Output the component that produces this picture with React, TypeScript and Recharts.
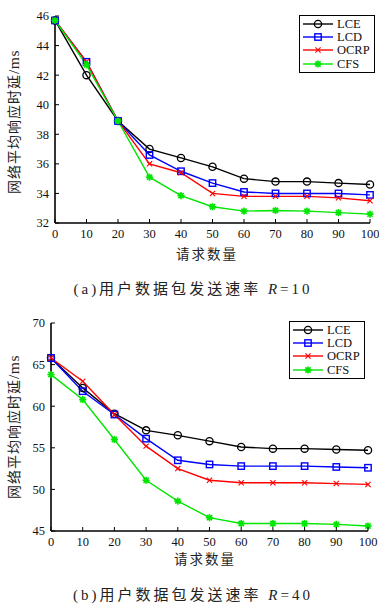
import { Legend, Line, LineChart, XAxis, YAxis } from "recharts";

// request counts on the x axis
const requestCounts = [0, 10, 20, 30, 40, 50, 60, 70, 80, 90, 100];

// (a) R = 10
const lceA = [45.7, 42.0, 38.9, 37.0, 36.4, 35.8, 35.0, 34.8, 34.8, 34.7, 34.6];
const lcdA = [45.7, 42.9, 38.9, 36.6, 35.5, 34.7, 34.1, 34.0, 34.0, 34.0, 33.9];
const ocrpA = [45.7, 42.9, 38.9, 36.0, 35.4, 34.0, 33.8, 33.8, 33.8, 33.7, 33.5];
const cfsA = [45.7, 42.7, 38.9, 35.1, 33.85, 33.1, 32.8, 32.85, 32.8, 32.7, 32.6];
const yTicksA = [32, 34, 36, 38, 40, 42, 44, 46];

// (b) R = 40
const lceB = [65.8, 62.2, 59.1, 57.1, 56.5, 55.8, 55.1, 54.9, 54.9, 54.8, 54.7];
const lcdB = [65.8, 61.8, 59.0, 56.1, 53.5, 53.0, 52.8, 52.8, 52.8, 52.7, 52.6];
const ocrpB = [65.8, 63.0, 59.0, 55.2, 52.5, 51.1, 50.8, 50.8, 50.8, 50.7, 50.6];
const cfsB = [63.8, 60.8, 56.0, 51.1, 48.6, 46.6, 45.9, 45.9, 45.9, 45.8, 45.6];
const yTicksB = [45, 50, 55, 60, 65, 70];

const SERIF = '"Liberation Serif", "DejaVu Serif", serif';
const CJK = '"Liberation Serif", "Noto Sans CJK SC", serif';

type Marker = "circle" | "square" | "cross" | "star";

const SERIES: { key: string; name: string; color: string; marker: Marker }[] = [
  { key: "lce", name: "LCE", color: "#000000", marker: "circle" },
  { key: "lcd", name: "LCD", color: "#0000ff", marker: "square" },
  { key: "ocrp", name: "OCRP", color: "#ff0000", marker: "cross" },
  { key: "cfs", name: "CFS", color: "#00e600", marker: "star" },
];

function drawMarker(kind: Marker, cx: number, cy: number, color: string, key?: string | number) {
  if (kind === "circle") {
    return <circle key={key} cx={cx} cy={cy} r={3.6} fill="none" stroke={color} strokeWidth={1.3} />;
  }
  if (kind === "square") {
    return <rect key={key} x={cx - 3.2} y={cy - 3.2} width={6.4} height={6.4} fill="none" stroke={color} strokeWidth={1.4} />;
  }
  if (kind === "cross") {
    return (
      <g key={key} stroke={color} strokeWidth={1.1}>
        <line x1={cx - 2.6} y1={cy - 2.6} x2={cx + 2.6} y2={cy + 2.6} />
        <line x1={cx - 2.6} y1={cy + 2.6} x2={cx + 2.6} y2={cy - 2.6} />
      </g>
    );
  }
  return (
    <g key={key} stroke={color} strokeWidth={1.6}>
      <circle cx={cx} cy={cy} r={2.4} fill={color} stroke="none" />
      <line x1={cx - 3.6} y1={cy} x2={cx + 3.6} y2={cy} />
      <line x1={cx} y1={cy - 3.6} x2={cx} y2={cy + 3.6} />
      <line x1={cx - 2.6} y1={cy - 2.6} x2={cx + 2.6} y2={cy + 2.6} />
      <line x1={cx - 2.6} y1={cy + 2.6} x2={cx + 2.6} y2={cy - 2.6} />
    </g>
  );
}

function YTick(props: any) {
  const { x, y, payload } = props;
  const ax = x + 6;
  return (
    <g>
      <line x1={ax} y1={y} x2={ax + 4} y2={y} stroke="#000" strokeWidth={1} />
      <text x={x} y={y} dy="0.35em" textAnchor="end" fontFamily={SERIF} fontSize={12.5} fill="#111">
        {payload.value}
      </text>
    </g>
  );
}

function XTick(props: any) {
  const { x, y, payload } = props;
  const ay = y - 6;
  return (
    <g>
      <line x1={x} y1={ay} x2={x} y2={ay - 4} stroke="#000" strokeWidth={1} />
      <text x={x} y={y} dy="0.71em" textAnchor="middle" fontFamily={SERIF} fontSize={12.5} fill="#111">
        {payload.value}
      </text>
    </g>
  );
}

function LegendBox() {
  return (
    <div
      style={{
        border: "1.5px solid #000",
        background: "#fff",
        padding: "1px 0 1px 3px",
        boxSizing: "border-box",
        width: "100%",
      }}
    >
      {SERIES.map((s) => (
        <div key={s.key} style={{ display: "flex", alignItems: "center", height: 13.4 }}>
          <svg width={30} height={10} style={{ display: "block" }}>
            <line x1={0} y1={5} x2={30} y2={5} stroke={s.color} strokeWidth={1.4} />
            {drawMarker(s.marker, 15, 5, s.color)}
          </svg>
          <span style={{ marginLeft: 4, fontFamily: SERIF, fontSize: 12.5, lineHeight: "12px", color: "#111" }}>
            {s.name}
          </span>
        </div>
      ))}
    </div>
  );
}

function buildRows(lce: number[], lcd: number[], ocrp: number[], cfs: number[]) {
  return requestCounts.map((n, i) => ({ n, lce: lce[i], lcd: lcd[i], ocrp: ocrp[i], cfs: cfs[i] }));
}

function Panel({
  rows,
  yDomain,
  yTicks,
  height,
  margin,
  yWidth,
  xHeight,
  legendPos,
}: {
  rows: any[];
  yDomain: [number, number];
  yTicks: number[];
  height: number;
  margin: { top: number; right: number; bottom: number; left: number };
  yWidth: number;
  xHeight: number;
  legendPos: { left: number; top: number; width: number };
}) {
  return (
    <LineChart width={379} height={height} data={rows} margin={margin}>
      <XAxis
        dataKey="n"
        type="number"
        domain={[0, 100]}
        ticks={requestCounts}
        height={xHeight}
        tickSize={0}
        tickMargin={6}
        tickLine={false}
        axisLine={{ stroke: "#000", strokeWidth: 1.6 }}
        tick={<XTick />}
        interval={0}
      />
      <YAxis
        type="number"
        domain={yDomain}
        ticks={yTicks}
        width={yWidth}
        tickSize={0}
        tickMargin={6}
        tickLine={false}
        axisLine={{ stroke: "#000", strokeWidth: 1.6 }}
        tick={<YTick />}
        interval={0}
      />
      <Legend
        layout="horizontal"
        align="center"
        verticalAlign="middle"
        content={() => <LegendBox />}
        wrapperStyle={{ left: legendPos.left, top: legendPos.top, width: legendPos.width }}
      />
      {SERIES.map((s) => (
        <Line
          key={s.key}
          dataKey={s.key}
          name={s.name}
          stroke={s.color}
          strokeWidth={1.4}
          isAnimationActive={false}
          dot={(p: any) => drawMarker(s.marker, p.cx, p.cy, s.color, `${s.key}-${p.index}`)}
          activeDot={false}
        />
      ))}
    </LineChart>
  );
}

const textBase: React.CSSProperties = {
  position: "absolute",
  whiteSpace: "nowrap",
  fontFamily: CJK,
  color: "#222",
};

function YTitle({ top }: { top: number }) {
  return (
    <div
      style={{
        ...textBase,
        left: 13,
        top,
        fontSize: 14,
        letterSpacing: 1,
        transform: "translate(-50%, -50%) rotate(-90deg)",
      }}
    >
      网络平均响应时延<span style={{ fontSize: 15.5, letterSpacing: 0.5 }}>/ms</span>
    </div>
  );
}

export default function App() {
  const rowsA = buildRows(lceA, lcdA, ocrpA, cfsA);
  const rowsB = buildRows(lceB, lcdB, ocrpB, cfsB);
  return (
    <div style={{ position: "absolute", left: 0, top: 0, width: 379, height: 604, background: "#fff" }}>
      <div style={{ position: "absolute", left: 0, top: 0 }}>
        <Panel
          rows={rowsA}
          yDomain={[32, 46]}
          yTicks={yTicksA}
          height={300}
          margin={{ top: 16, right: 9, bottom: 0, left: 0 }}
          yWidth={55}
          xHeight={77}
          legendPos={{ left: 299, top: 15, width: 76 }}
        />
      </div>
      <div style={{ position: "absolute", left: 0, top: 300 }}>
        <Panel
          rows={rowsB}
          yDomain={[45, 70]}
          yTicks={yTicksB}
          height={304}
          margin={{ top: 23, right: 11, bottom: 0, left: 0 }}
          yWidth={51}
          xHeight={73}
          legendPos={{ left: 289, top: 21, width: 76 }}
        />
      </div>

      {/* axis titles and captions */}
      <YTitle top={122} />
      <div style={{ ...textBase, left: 207, top: 253, fontSize: 13.5, letterSpacing: 2, transform: "translate(-50%, -50%)" }}>
        请求数量
      </div>
      <div style={{ ...textBase, left: 193, top: 287, fontSize: 15, letterSpacing: 3, transform: "translate(-50%, -50%)" }}>
        (a)用户数据包发送速率 <i>R</i>=10
      </div>

      <YTitle top={427} />
      <div style={{ ...textBase, left: 205, top: 558, fontSize: 13.5, letterSpacing: 2, transform: "translate(-50%, -50%)" }}>
        请求数量
      </div>
      <div style={{ ...textBase, left: 193, top: 593, fontSize: 15, letterSpacing: 3, transform: "translate(-50%, -50%)" }}>
        (b)用户数据包发送速率 <i>R</i>=40
      </div>
    </div>
  );
}
